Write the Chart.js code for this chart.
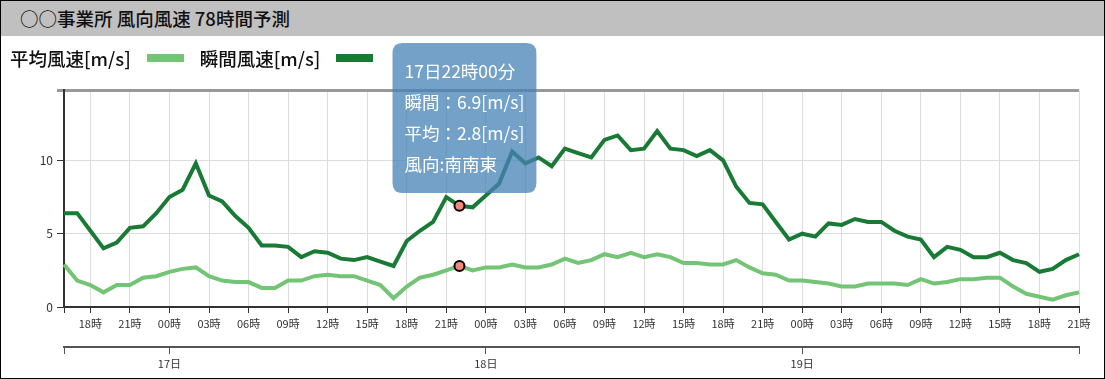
<!DOCTYPE html>
<html lang="ja">
<head>
<meta charset="utf-8">
<title>風向風速 78時間予測</title>
<script src="https://cdn.jsdelivr.net/npm/chart.js@4/dist/chart.umd.min.js"></script>
<style>
  body { margin: 0; background: #fff; font-family: 'Noto Sans CJK JP', 'Noto Sans', sans-serif; color: #111; }
  #wrap { position: relative; width: 1105px; height: 379px; box-sizing: border-box; border: 1px solid #000; overflow: hidden; }
  #header { position: absolute; left: 0; top: 0; width: 1103px; height: 35px; background: #c0c0c0; }
  #title { position: absolute; left: 19px; top: 0; line-height: 35px; font-size: 18.5px; font-weight: 500; }
  #chart { position: absolute; left: 0; top: 36px; }
  #legend { position: absolute; left: 9px; top: 45px; height: 24px; display: flex; align-items: center; font-size: 18.5px; font-weight: 500; z-index: 2; }
  #legend .sw { display: inline-block; width: 37px; height: 8px; margin: 0 16px; }
</style>
</head>
<body>
<div id="wrap">
  <div id="header"><div id="title">○○事業所 風向風速 78時間予測</div></div>
  <canvas id="chart" width="1103" height="341"></canvas>
  <div id="legend"></div>
</div>
<script>
// 予測開始時刻 (16日16時から1時間ごと78点)
var startDay = 16;
var startHour = 16;
var pointCount = 78;

// 平均風速 [m/s]
var avgSpeed = [
  2.9, 1.8, 1.5, 1.0, 1.5, 1.5, 2.0, 2.1, 2.4, 2.6, 2.7, 2.1, 1.8, 1.7, 1.7, 1.3,
  1.3, 1.8, 1.8, 2.1, 2.2, 2.1, 2.1, 1.8, 1.5, 0.6, 1.4, 2.0, 2.2, 2.5, 2.8, 2.5,
  2.7, 2.7, 2.9, 2.7, 2.7, 2.9, 3.3, 3.0, 3.2, 3.6, 3.4, 3.7, 3.4, 3.6, 3.4, 3.0,
  3.0, 2.9, 2.9, 3.2, 2.7, 2.3, 2.2, 1.8, 1.8, 1.7, 1.6, 1.4, 1.4, 1.6, 1.6, 1.6,
  1.5, 1.9, 1.6, 1.7, 1.9, 1.9, 2.0, 2.0, 1.4, 0.9, 0.7, 0.5, 0.8, 1.0
];

// 瞬間風速 [m/s]
var gustSpeed = [
  6.4, 6.4, 5.2, 4.0, 4.4, 5.4, 5.5, 6.4, 7.5, 8.0, 9.8, 7.6, 7.2, 6.2, 5.4, 4.2,
  4.2, 4.1, 3.4, 3.8, 3.7, 3.3, 3.2, 3.4, 3.1, 2.8, 4.5, 5.2, 5.8, 7.5, 6.9, 6.8,
  7.6, 8.4, 10.6, 9.8, 10.2, 9.6, 10.8, 10.5, 10.2, 11.4, 11.7, 10.7, 10.8, 12.0, 10.8, 10.7,
  10.3, 10.7, 10.0, 8.2, 7.1, 7.0, 5.8, 4.6, 5.0, 4.8, 5.7, 5.6, 6.0, 5.8, 5.8, 5.2,
  4.8, 4.6, 3.4, 4.1, 3.9, 3.4, 3.4, 3.7, 3.2, 3.0, 2.4, 2.6, 3.2, 3.6
];

// ツールチップ表示中の時刻と風向
var tipIndex = 30;
var tipWindDir = '南南東';

var yMax = 14.8;
var yStep = 5;

var fontFamily = "'Noto Sans CJK JP', 'Noto Sans', sans-serif";
var avgColor = '#74c476';
var gustColor = '#187a35';

function pad2(n) { return (n < 10 ? '0' : '') + n; }

// 時刻ラベル
var times = [];
for (var i = 0; i < pointCount; i++) {
  var h = startHour + i;
  times.push({ day: startDay + Math.floor(h / 24), hour: h % 24 });
}
var labels = times.map(function(t) { return t.day + '日' + pad2(t.hour) + '時00分'; });

// 凡例 (文字 → 色見本)
var legendItems = [
  { text: '平均風速[m/s]', color: avgColor },
  { text: '瞬間風速[m/s]', color: gustColor }
];
document.getElementById('legend').innerHTML = legendItems.map(function(it) {
  return '<span>' + it.text + '</span><span class="sw" style="background:' + it.color + '"></span>';
}).join('');

function isTop(ctx) {
  return ctx.tick && Math.abs(ctx.tick.value - yMax) < 1e-6;
}

Chart.Tooltip.positioners.fixedTip = function(elements) {
  if (!elements.length) return false;
  return { x: elements[0].element.x + 5, y: this.chart.chartArea.top + 28 };
};

var ctx = document.getElementById('chart').getContext('2d');
var chart = new Chart(ctx, {
  type: 'line',
  data: {
    labels: labels,
    datasets: [
      {
        label: '平均風速[m/s]',
        shortName: '平均',
        data: avgSpeed,
        borderColor: avgColor,
        backgroundColor: avgColor,
        borderWidth: 4,
        tension: 0,
        pointRadius: 0,
        pointHoverRadius: 5,
        pointHoverBorderWidth: 2,
        pointHoverBackgroundColor: '#f4877c',
        pointHoverBorderColor: '#000'
      },
      {
        label: '瞬間風速[m/s]',
        shortName: '瞬間',
        data: gustSpeed,
        borderColor: gustColor,
        backgroundColor: gustColor,
        borderWidth: 4,
        tension: 0,
        pointRadius: 0,
        pointHoverRadius: 5,
        pointHoverBorderWidth: 2,
        pointHoverBackgroundColor: '#f4877c',
        pointHoverBorderColor: '#000'
      }
    ]
  },
  options: {
    responsive: false,
    animation: false,
    events: [],
    devicePixelRatio: 1,
    layout: { padding: { top: 53, right: 25, bottom: 3, left: 0 } },
    font: { family: fontFamily },
    plugins: {
      legend: { display: false },
      tooltip: {
        position: 'fixedTip',
        xAlign: 'center',
        yAlign: 'center',
        caretSize: 0,
        cornerRadius: 10,
        backgroundColor: 'rgba(70,130,180,0.75)',
        padding: { top: 18, bottom: 18, left: 12, right: 12 },
        displayColors: false,
        titleColor: '#fff',
        bodyColor: '#fff',
        titleFont: { family: fontFamily, size: 17.5, weight: 'normal' },
        bodyFont: { family: fontFamily, size: 17.5 },
        titleMarginBottom: 10,
        bodySpacing: 10,
        itemSort: function(a, b) { return b.datasetIndex - a.datasetIndex; },
        callbacks: {
          title: function(items) { return items[0].label; },
          label: function(item) {
            return item.dataset.shortName + '：' + item.parsed.y.toFixed(1) + '[m/s]';
          },
          afterBody: function() { return '風向:' + tipWindDir; }
        }
      }
    },
    scales: {
      x: {
        type: 'category',
        position: 'bottom',
        weight: 0,
        grid: { color: '#ddd', lineWidth: 1, tickColor: '#333', tickLength: 6 },
        border: { color: '#333', width: 2 },
        ticks: {
          autoSkip: false,
          maxRotation: 0,
          padding: 4,
          color: '#333',
          font: { family: fontFamily, size: 11 },
          callback: function(value, index) {
            var t = times[index];
            if (t.hour % 3 === 0) return pad2(t.hour) + '時';
            if (index === 0) return '';
            return null;
          }
        },
        afterFit: function(s) { s.height = 40; }
      },
      x2: {
        type: 'category',
        position: 'bottom',
        weight: 1,
        grid: { drawOnChartArea: false, color: '#555', tickColor: '#555', tickLength: 7 },
        border: { color: '#555', width: 2 },
        ticks: {
          autoSkip: false,
          maxRotation: 0,
          padding: 3,
          color: '#333',
          font: { family: fontFamily, size: 11 },
          callback: function(value, index) {
            var t = times[index];
            if (t.hour === 0) return t.day + '日';
            if (index === 0 || index === pointCount - 1) return '';
            return null;
          }
        },
        afterFit: function(s) { s.height = 28; }
      },
      y: {
        min: 0,
        max: yMax,
        grid: {
          color: function(c) { return isTop(c) ? '#999' : '#ddd'; },
          lineWidth: function(c) { return isTop(c) ? 3 : 1; },
          tickColor: function(c) { return isTop(c) ? '#999' : '#333'; },
          tickLength: 7
        },
        border: { color: '#333', width: 2 },
        ticks: {
          stepSize: yStep,
          includeBounds: true,
          padding: 4,
          color: '#333',
          font: { family: fontFamily, size: 12 },
          callback: function(v) { return Math.abs(v - yMax) < 1e-6 ? '' : v; }
        },
        afterFit: function(s) { s.width = 63; }
      }
    }
  }
});

var active = [
  { datasetIndex: 1, index: tipIndex },
  { datasetIndex: 0, index: tipIndex }
];
chart.setActiveElements(active);
chart.tooltip.setActiveElements(active, { x: 0, y: 0 });
chart.update();
</script>
</body>
</html>
